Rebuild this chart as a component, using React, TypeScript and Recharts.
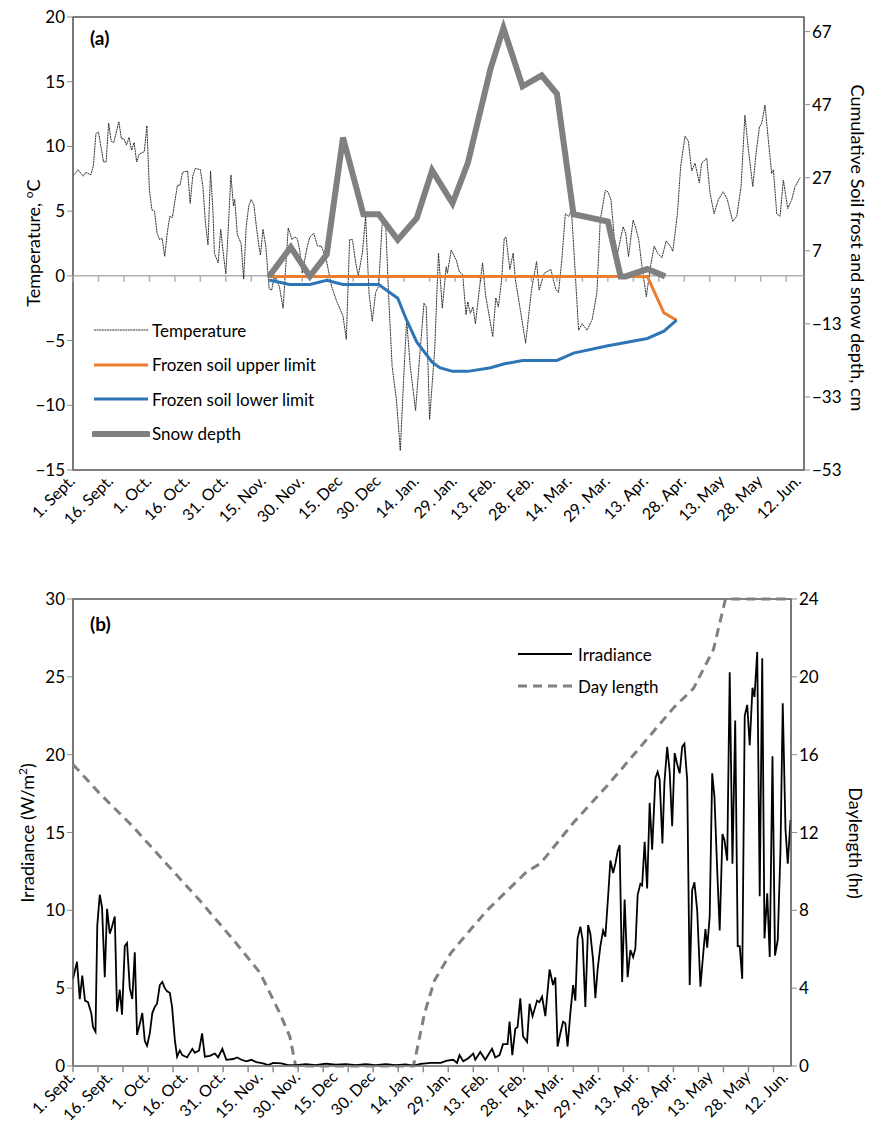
import {
  ComposedChart,
  Line,
  XAxis,
  YAxis,
  ReferenceLine,
  ReferenceArea,
} from "recharts";

// x = days since 1 Sept (leap year), 15-day label spacing
const DATE_LABELS = [
  "1. Sept.", "16. Sept.", "1. Oct.", "16. Oct.", "31. Oct.", "15. Nov.",
  "30. Nov.", "15. Dec", "30. Dec", "14. Jan.", "29. Jan.", "13. Feb.",
  "28. Feb.", "14. Mar.", "29. Mar.", "13. Apr.", "28. Apr.", "13. May",
  "28. May", "12. Jun.",
];
const LABEL_DAYS = DATE_LABELS.map((_, i) => i * 15);
const MINOR_DAYS = Array.from({ length: 29 }, (_, i) => i * 10);

const TEMP: [number, number][] = [
  [0, 7.7], [2, 8.2], [4, 7.7], [5, 8.0], [7, 7.8], [8, 8.5], [9, 11.0], [10, 11.1],
  [12, 8.8], [13, 8.8], [14, 11.8], [15, 10.4], [16, 10.3], [18, 11.9], [19, 10.6],
  [20, 10.6], [21, 10.1], [22, 10.7], [23, 9.7], [24, 10.3], [25, 8.8], [26, 9.4],
  [28, 9.6], [29, 11.6], [30, 6.6], [31, 5.1], [32, 5.0], [33, 3.3], [34, 2.8],
  [35, 2.9], [36, 1.5], [37, 3.3], [38, 4.6], [39, 4.5], [41, 7.0], [42, 7.0],
  [43, 8.0], [45, 8.1], [46, 5.6], [47, 7.7], [48, 8.3], [50, 8.2], [51, 6.9],
  [52, 4.1], [53, 2.4], [54, 8.1], [55, 4.8], [55.5, 1.75], [57, 1.0], [58, 3.6],
  [59, 1.75], [60, 0.15], [61, 3.8], [62, 7.8], [63, 5.4], [63.5, 5.9], [64.5, 3.2],
  [66, 2.5], [67, -0.25], [68, 3.8], [69, 5.4], [70, 5.9], [71, 5.5], [72, 3.8],
  [73, 2.3], [73.6, 1.6], [74.6, 3.6], [75.7, 2.3], [77, -1.0], [78, -1.1], [79, -0.05],
  [81, -0.8], [82.5, -2.5], [84.5, 3.7], [86, 2.8], [87, 3.0], [88, 2.9], [89, 2.0],
  [90, 0.2], [92, 2.3], [93, 3.0], [94.5, 3.3], [96, 2.3], [97.5, 2.3], [99.5, 1.2],
  [101.5, -0.8], [103.4, -1.9], [106, -3.1], [107.3, -4.9], [108.6, 2.8], [109.7, 2.8],
  [111, 1.0], [112, 0], [113.6, 1.75], [114.9, 4.6], [116.2, -1.3], [117.5, -3.5],
  [118.8, -1.3], [120, -0.8], [121.4, 4.1], [122.7, 4.3], [124, -1.9], [125.3, -7.0],
  [127, -9.6], [128.5, -13.5], [129.8, -8.0], [131, -3.4], [132.4, -7.0], [134.5, -10.4],
  [136, -6.5], [137.8, -2.1], [138.7, -2.4], [140, -11.1], [142, -5.7], [143.5, 1.75],
  [145, -2.5], [146.5, 0.7], [147, 0.2], [148.5, 2.0], [150.5, 1.2], [151.7, 0.3],
  [153, 0.1], [154.3, -3.0], [155, -2.0], [156, -2.9], [157, -2.4], [158, -3.7],
  [159.5, -1.1], [160.8, 1.0], [162, -1.5], [163.4, -3.1], [164.8, -4.7], [166, -1.7],
  [167, -2.4], [168.3, -0.3], [169.3, 2.9], [170, 3.0], [171.5, 0.5], [172.8, 1.75],
  [173.7, -0.3], [175.6, -2.6], [177.7, -5.2], [180, -1.1], [182, 1.1], [183, -1.1],
  [185, 0.2], [187.6, 0.5], [189.5, -1.0], [190.6, -1.3], [191.9, 1.2], [193.3, 4.8],
  [194.6, 4.6], [195.7, 5.1], [197.2, 0.2], [198.5, -4.2], [199.9, -3.7], [201.8, -4.2],
  [203.8, -3.4], [205.7, -1.3], [207, 4.3], [209, 6.6], [210, 6.5], [211.2, 5.9],
  [212.5, 3.0], [213.8, 1.75], [214.9, 2.8], [216, 3.8], [217, 3.3], [218.1, 1.5],
  [219.9, 4.3], [220.8, 3.8], [222.1, 2.8], [223.4, 0.7], [225.1, -1.6], [226.7, 0.7],
  [228.2, 2.3], [229.5, 1.75], [231.2, 1.4], [232.9, 2.7], [234.5, 2.3], [235.5, 1.9],
  [237.3, 4.8], [238.6, 8.5], [240.3, 10.8], [241.6, 10.4], [242.9, 8.1], [244.2, 8.7],
  [245.9, 7.2], [246.8, 8.7], [248.8, 9.1], [250.1, 6.4], [251.7, 4.8], [253.4, 5.9],
  [255.3, 6.5], [256.9, 5.9], [259, 4.2], [260.6, 4.6], [262.3, 6.9], [263.8, 12.4],
  [265.2, 9.7], [266.9, 6.9], [268.2, 9.5], [269.5, 11.5], [270.4, 11.8], [271.7, 13.2],
  [273, 10.5], [274.3, 7.9], [275, 8.2], [276.3, 4.8], [277.6, 4.6], [278.9, 7.4],
  [280.6, 5.2], [282.2, 5.9], [283.5, 6.9], [285.5, 7.6],
];

const SNOW: [number, number][] = [
  [77, 0], [85.5, 8], [93, 0], [99.6, 6], [106, 38], [114, 17], [120, 17], [127.5, 10],
  [135, 16], [141, 29], [149, 20], [155, 31], [164, 57], [169, 68], [176.5, 52],
  [184, 55], [190, 50], [196.5, 17], [210, 15], [215, 0], [217, 0], [225.5, 2], [232.5, 0],
];

const FROST_UPPER: [number, number][] = [
  [77, 0], [225.5, 0], [232, -10], [237, -12],
];

const FROST_LOWER: [number, number][] = [
  [77, -1], [85, -2.2], [93, -2.2], [99.6, -1.1], [106, -2.2], [120, -2.2], [127.5, -6],
  [131, -12], [135, -18], [141, -23.5], [144, -25], [149, -26], [155, -26], [164, -25],
  [169, -24], [176.5, -23], [190, -23], [196.5, -21], [210, -19], [225.5, -17],
  [232, -15], [237, -12],
];

const IRRADIANCE: [number, number][] = [
  [0, 5.6], [1.6, 6.7], [2.7, 4.3], [3.7, 5.8], [4.8, 4.2], [6, 4.1], [7.3, 3.4], [8, 2.5],
  [9, 2.2], [9.7, 9.0], [10.7, 11.0], [11.6, 10.2], [12.7, 5.7], [13.6, 10.1], [14.7, 8.5],
  [15.5, 8.9], [16.7, 9.6], [17.6, 3.5], [18.7, 4.9], [19.6, 3.3], [20.7, 7.7], [21.6, 7.9],
  [22.7, 5.0], [23.7, 4.3], [24.7, 7.3], [25.6, 2.0], [26.7, 2.7], [27.7, 3.4], [28.7, 1.6],
  [29.6, 1.3], [30.7, 2.1], [31.7, 3.4], [32.7, 3.8], [33.6, 4.0], [34.7, 5.2], [35.7, 5.4],
  [36.7, 5.0], [37.6, 4.8], [38.7, 4.7], [39.6, 3.8], [40.7, 1.7], [41.6, 0.6], [42.7, 1.0],
  [43.7, 0.7], [45.6, 0.55], [47.7, 1.1], [48.7, 0.85], [50.4, 1.0], [51.6, 2.1], [52.7, 0.6],
  [54.7, 0.65], [56.7, 0.8], [58, 0.55], [59.7, 1.1], [61.3, 0.4], [64, 0.45], [65.6, 0.55],
  [67.3, 0.4], [69.3, 0.3], [71.3, 0.4], [73.3, 0.25], [76, 0.17], [78, 0.06], [80, 0.2],
  [83.3, 0.17], [86, 0.06], [89.3, 0.06], [93, 0.12], [97, 0.05], [101, 0.15], [105, 0.08],
  [109, 0.12], [113, 0.05], [117, 0.12], [121, 0.06], [125, 0.12], [129, 0.06], [133, 0.1],
  [136, 0.02], [139, 0.13], [143, 0.2], [147, 0.2], [149.5, 0.35], [152, 0.4], [153.5, 0.2],
  [154.5, 0.7], [156, 0.3], [158, 0.5], [160, 0.8], [160.8, 0.4], [162.8, 0.9], [164.8, 0.4],
  [167.5, 1.1], [168.8, 0.55], [170.5, 0.7], [171.9, 1.4], [173.7, 1.4], [174.5, 2.85],
  [175.6, 0.7], [176.8, 2.4], [177.7, 2.5], [178.8, 4.35], [179.9, 1.9], [181.5, 1.55],
  [182.5, 4.0], [183.7, 3.2], [185.5, 4.2], [186.4, 4.1], [187.5, 4.45], [188.8, 3.2],
  [190.5, 6.2], [191.9, 5.2], [192.8, 5.7], [193.7, 1.25], [194.8, 2.1], [195.9, 2.85],
  [196.8, 2.75], [197.7, 1.25], [198.8, 3.4], [199.9, 5.2], [200.8, 4.2], [201.7, 8.2],
  [202.8, 8.95], [203.7, 8.1], [204.8, 3.8], [205.9, 9.05], [206.8, 8.5], [207.9, 6.8],
  [208.8, 4.35], [209.7, 6.2], [210.8, 7.7], [211.9, 8.7], [212.8, 8.3], [214.1, 11.4],
  [214.8, 13.2], [215.9, 12.4], [216.8, 13.0], [217.7, 13.8], [218.5, 14.2], [219.5, 5.4],
  [220.5, 10.7], [221.7, 5.7], [222.8, 7.45], [223.9, 7.0], [224.8, 7.55], [225.7, 11.0],
  [226.8, 11.7], [227.5, 11.6], [228.5, 14.4], [229.5, 11.4], [230.5, 16.9], [231.5, 13.9],
  [232.8, 18.5], [233.7, 18.9], [234.5, 18.4], [235.6, 14.3], [236.4, 18.2], [237.5, 20.5],
  [238.5, 18.9], [239.5, 15.4], [240.5, 20.1], [241.5, 19.4], [242.5, 18.8], [243.5, 20.5],
  [244.4, 20.7], [245.5, 18.4], [246.5, 5.2], [247.5, 11.3], [248.4, 11.8], [249.5, 10.0],
  [250.8, 5.1], [251.8, 7.0], [252.8, 8.8], [253.5, 7.6], [254.5, 9.6], [255.5, 18.8],
  [256.4, 17.3], [257.5, 12.6], [258.5, 8.7], [259.6, 14.9], [260.4, 14.5], [261.5, 13.2],
  [262.5, 25.3], [263.6, 13.0], [264.7, 22.2], [265.7, 7.7], [266.5, 7.7], [267.5, 5.6],
  [268.5, 22.5], [269.5, 23.2], [270.5, 20.6], [271.6, 24.3], [272.4, 23.7], [273.5, 26.6],
  [274.5, 10.9], [275.5, 26.2], [276.4, 8.2], [277.5, 11.1], [278.5, 7.0], [279.6, 19.9],
  [280.6, 7.1], [281.7, 8.1], [282.8, 13.9], [283.7, 23.3], [284.8, 15.2], [285.7, 13.0],
  [286.8, 15.8],
];

const DAY_LENGTH: [number, number][] = [
  [0, 15.5], [10.7, 14.0], [24, 12.3], [37.3, 10.4], [50.7, 8.5], [64, 6.5], [74.7, 4.8],
  [82.7, 2.7], [86.7, 1.5], [89, 0], [136, 0], [136.8, 0.4], [140.5, 2.7], [144.5, 4.4],
  [151, 5.8], [157.5, 6.8], [165.5, 8.0], [173.5, 9.0], [181.5, 10.0], [186.8, 10.4],
  [200, 12.5], [213.5, 14.4], [226.8, 16.4], [240, 18.4], [248, 19.4], [256, 21.4],
  [260.8, 24], [287, 24],
];

const toRows = (pts: [number, number][]) => pts.map(([day, v]) => ({ day, v }));

const FONT = "Lato, 'Open Sans', sans-serif";
const AXIS_GRAY = "#8c8c8c";
const W = 882;

function DateTick(props: any) {
  const { x, y, payload } = props;
  const label = DATE_LABELS[Math.round(payload.value / 15)];
  const tx = x + 3;
  const ty = y + 4;
  return (
    <text
      x={tx}
      y={ty}
      transform={`rotate(-45 ${tx} ${ty})`}
      textAnchor="end"
      fontSize={16}
      fontFamily={FONT}
      fill="#000"
    >
      {label}
    </text>
  );
}

const tickStyle = { fontSize: 17, fontFamily: FONT, fill: "#000" };

function LegendRow({ label, color, width, dash }: any) {
  return (
    <div style={{ display: "flex", alignItems: "center", height: 34.5 }}>
      <svg width={58} height={12}>
        <line x1={2} y1={6} x2={56} y2={6} stroke={color} strokeWidth={width}
          strokeDasharray={dash} strokeLinecap={width > 4 ? "round" : "butt"} />
      </svg>
      <span style={{ marginLeft: 2 }}>{label}</span>
    </div>
  );
}

function TopChart() {
  return (
    <div style={{ position: "absolute", left: 0, top: 0, width: W, height: 560 }}>
      <ComposedChart width={W} height={560} margin={{ top: 17, right: 0, left: 0, bottom: 0 }}>
        <ReferenceArea yAxisId="l" x1={0} x2={287} y1={-15} y2={20} fill="none" stroke="#000" strokeWidth={1.2} />
        <XAxis type="number" dataKey="day" domain={[0, 287]} ticks={LABEL_DAYS} interval={0}
          tick={<DateTick />} tickLine={false} axisLine={false} height={90} allowDuplicatedCategory={false} />
        <YAxis yAxisId="l" domain={[-15, 20]} ticks={[-15, -10, -5, 0, 5, 10, 15, 20]} width={73}
          tick={tickStyle} tickSize={6} tickLine={{ stroke: AXIS_GRAY }} axisLine={{ stroke: AXIS_GRAY }}
          tickFormatter={(v: number) => (v < 0 ? `\u2212${-v}` : `${v}`)} />
        <YAxis yAxisId="r" orientation="right" domain={[-53, 71]} ticks={[-53, -33, -13, 7, 27, 47, 67]} width={78}
          tick={tickStyle} tickSize={6} tickLine={{ stroke: AXIS_GRAY }} axisLine={{ stroke: AXIS_GRAY }}
          tickFormatter={(v: number) => (v < 0 ? `\u2212${-v}` : `${v}`)} />
        <ReferenceLine yAxisId="l" y={0} stroke="#b0b0b0" strokeWidth={1.5} />
        {MINOR_DAYS.map((d) => (
          <ReferenceLine key={d} yAxisId="l" segment={[{ x: d, y: 0 }, { x: d, y: -0.45 }]} stroke="#b0b0b0" strokeWidth={1.5} />
        ))}
        <Line yAxisId="l" data={toRows(TEMP)} dataKey="v" stroke="#1a1a1a" strokeWidth={0.9}
          strokeDasharray="2 0.6" dot={false} isAnimationActive={false} />
        <Line yAxisId="r" data={toRows(FROST_UPPER)} dataKey="v" stroke="#ED7D31" strokeWidth={3}
          dot={false} isAnimationActive={false} />
        <Line yAxisId="r" data={toRows(FROST_LOWER)} dataKey="v" stroke="#2E75B6" strokeWidth={3}
          dot={false} isAnimationActive={false} />
        <Line yAxisId="r" data={toRows(SNOW)} dataKey="v" stroke="#808080" strokeWidth={6}
          strokeLinejoin="miter" dot={false} isAnimationActive={false} />
      </ComposedChart>
      <div style={{ position: "absolute", left: 90, top: 26, fontFamily: FONT, fontWeight: 700, fontSize: 19 }}>(a)</div>
      <div style={{ position: "absolute", left: 32, top: 243, transform: "translate(-50%,-50%) rotate(-90deg)",
        whiteSpace: "nowrap", fontFamily: FONT, fontSize: 18 }}>
        Temperature, <sup style={{ fontSize: 12 }}>o</sup>C
      </div>
      <div style={{ position: "absolute", left: 858, top: 248, transform: "translate(-50%,-50%) rotate(90deg)",
        whiteSpace: "nowrap", fontFamily: FONT, fontSize: 18 }}>
        Cumulative Soil frost and snow depth, cm
      </div>
      <div style={{ position: "absolute", left: 92, top: 313, fontFamily: FONT, fontSize: 17 }}>
        <LegendRow label="Temperature" color="#333" width={1} dash="2 0.6" />
        <LegendRow label="Frozen soil upper limit" color="#ED7D31" width={3} />
        <LegendRow label="Frozen soil lower limit" color="#2E75B6" width={3} />
        <LegendRow label="Snow depth" color="#808080" width={6} />
      </div>
    </div>
  );
}

function BottomChart() {
  return (
    <div style={{ position: "absolute", left: 0, top: 580, width: W, height: 559 }}>
      <ComposedChart width={W} height={559} margin={{ top: 19, right: 0, left: 0, bottom: 0 }}>
        <ReferenceArea yAxisId="l" x1={0} x2={287} y1={0} y2={30} fill="none" stroke="#000" strokeWidth={1.2} />
        <XAxis type="number" dataKey="day" domain={[0, 287]} ticks={LABEL_DAYS} interval={0}
          tick={<DateTick />} tickLine={false} axisLine={{ stroke: AXIS_GRAY, strokeWidth: 1.5 }} height={73} />
        <YAxis yAxisId="l" domain={[0, 30]} ticks={[0, 5, 10, 15, 20, 25, 30]} width={73}
          tick={tickStyle} tickSize={6} tickLine={{ stroke: AXIS_GRAY }} axisLine={{ stroke: AXIS_GRAY }} />
        <YAxis yAxisId="r" orientation="right" domain={[0, 24]} ticks={[0, 4, 8, 12, 16, 20, 24]} width={91}
          tick={tickStyle} tickSize={6} tickLine={{ stroke: AXIS_GRAY }} axisLine={{ stroke: AXIS_GRAY }} />
        {MINOR_DAYS.map((d) => (
          <ReferenceLine key={d} yAxisId="l" ifOverflow="visible" segment={[{ x: d, y: 0 }, { x: d, y: -0.4 }]}
            stroke={AXIS_GRAY} strokeWidth={1.5} />
        ))}
        <Line yAxisId="r" data={toRows(DAY_LENGTH)} dataKey="v" stroke="#808080" strokeWidth={3}
          strokeDasharray="9 6" dot={false} isAnimationActive={false} />
        <Line yAxisId="l" data={toRows(IRRADIANCE)} dataKey="v" stroke="#000" strokeWidth={1.8}
          dot={false} isAnimationActive={false} />
      </ComposedChart>
      <div style={{ position: "absolute", left: 90, top: 32, fontFamily: FONT, fontWeight: 700, fontSize: 19 }}>(b)</div>
      <div style={{ position: "absolute", left: 26, top: 253, transform: "translate(-50%,-50%) rotate(-90deg)",
        whiteSpace: "nowrap", fontFamily: FONT, fontSize: 18 }}>
        Irradiance (W/m<sup style={{ fontSize: 12 }}>2</sup>)
      </div>
      <div style={{ position: "absolute", left: 856, top: 263, transform: "translate(-50%,-50%) rotate(90deg)",
        whiteSpace: "nowrap", fontFamily: FONT, fontSize: 18 }}>
        Daylength (hr)
      </div>
      <div style={{ position: "absolute", left: 516, top: 58, fontFamily: FONT, fontSize: 17 }}>
        <div style={{ height: 0 }} />
        <div style={{ display: "flex", alignItems: "center", height: 32 }}>
          <svg width={58} height={12}><line x1={2} y1={6} x2={56} y2={6} stroke="#000" strokeWidth={2} /></svg>
          <span style={{ marginLeft: 4 }}>Irradiance</span>
        </div>
        <div style={{ display: "flex", alignItems: "center", height: 32 }}>
          <svg width={58} height={12}><line x1={2} y1={6} x2={56} y2={6} stroke="#808080" strokeWidth={3} strokeDasharray="9 6" /></svg>
          <span style={{ marginLeft: 4 }}>Day length</span>
        </div>
      </div>
    </div>
  );
}

export default function App() {
  return (
    <div style={{ position: "absolute", left: 0, top: 0, width: W, height: 1139, background: "#fff" }}>
      <TopChart />
      <BottomChart />
    </div>
  );
}
